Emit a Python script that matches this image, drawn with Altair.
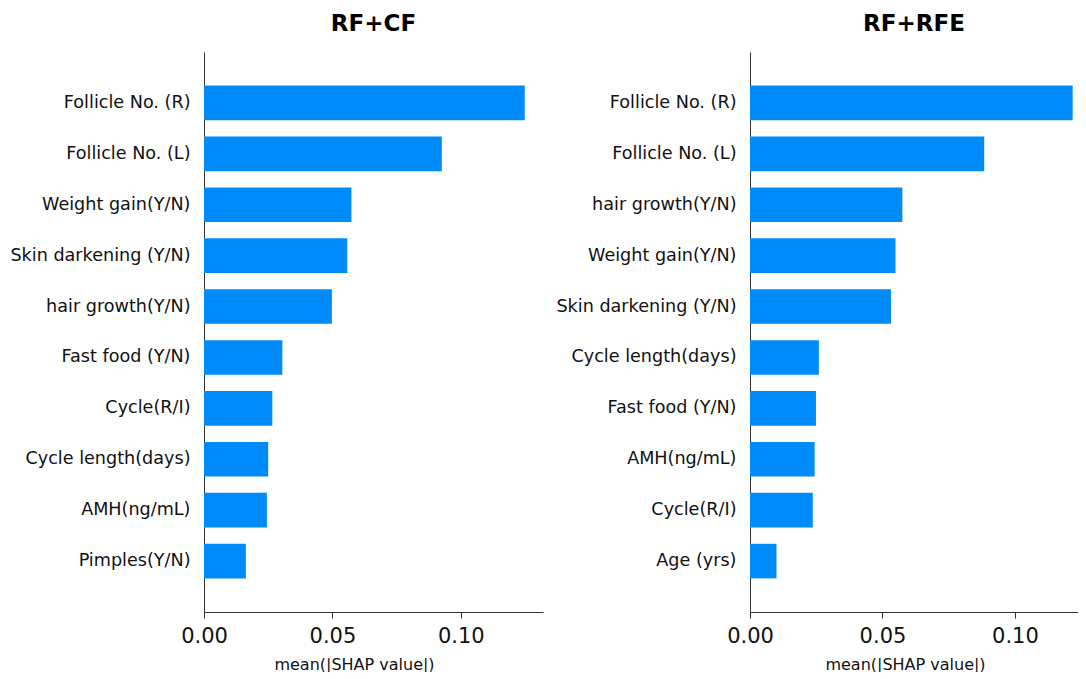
import altair as alt
import pandas as pd

cf_features = ["Follicle No. (R)", "Follicle No. (L)", "Weight gain(Y/N)", "Skin darkening (Y/N)",
               "hair growth(Y/N)", "Fast food (Y/N)", "Cycle(R/I)", "Cycle length(days)",
               "AMH(ng/mL)", "Pimples(Y/N)"]
cf_values = [0.1249, 0.0926, 0.0574, 0.0558, 0.0498, 0.0305, 0.0266, 0.0250, 0.0245, 0.0163]

rfe_features = ["Follicle No. (R)", "Follicle No. (L)", "hair growth(Y/N)", "Weight gain(Y/N)",
                "Skin darkening (Y/N)", "Cycle length(days)", "Fast food (Y/N)", "AMH(ng/mL)",
                "Cycle(R/I)", "Age (yrs)"]
rfe_values = [0.1218, 0.0884, 0.0575, 0.0549, 0.0532, 0.0260, 0.0249, 0.0244, 0.0237, 0.0100]

titles = ["RF+CF", "RF+RFE"]
x_ticks = [0.0, 0.05, 0.10]
x_title = "mean(|SHAP value|)"

BLUE = "#008bfb"
FONT = "DejaVu Sans"


def panel(features, values, title, xmax, width, extent, title_x):
    df = pd.DataFrame({"feature": features, "value": values})
    return (
        alt.Chart(
            df,
            title=alt.TitleParams(title, fontSize=23, fontWeight="bold", font=FONT,
                                  anchor="middle", color="#000", offset=16),
        )
        .mark_bar(color=BLUE)
        .encode(
            x=alt.X(
                "value:Q",
                scale=alt.Scale(domain=[0, xmax], nice=False, zero=True),
                axis=alt.Axis(
                    title=x_title, values=x_ticks, format=".2f", grid=False,
                    labelFontSize=21, labelFont=FONT, labelColor="#111",
                    titleFontSize=16, titleFont=FONT, titleFontWeight="normal",
                    titleColor="#111", titlePadding=10, titleX=title_x,
                    tickSize=6, tickColor="#333", domainColor="#333",
                    labelPadding=7, labelFlush=False,
                ),
            ),
            y=alt.Y(
                "feature:N",
                sort=features,
                scale=alt.Scale(paddingInner=0.32, paddingOuter=0.66),
                axis=alt.Axis(
                    title=None, ticks=False, grid=False, labelFontSize=17.6, labelFont=FONT,
                    labelColor="#111", labelPadding=14, domainColor="#333",
                    minExtent=extent, maxExtent=extent, labelLimit=400,
                ),
            ),
        )
        .properties(width=width, height=560)
    )


left = panel(cf_features, cf_values, titles[0], 0.132, 339, 196, 150)
right = panel(rfe_features, rfe_values, titles[1], 0.1238, 328, 195, 155)

chart = (
    alt.hconcat(left, right, spacing=12)
    .properties(padding={"left": 0, "top": 5, "right": 0, "bottom": 0})
    .configure(background="white")
    .configure_view(stroke="transparent", strokeWidth=0)
)

chart.save("out.html", embed_options={"renderer": "svg", "actions": False})
